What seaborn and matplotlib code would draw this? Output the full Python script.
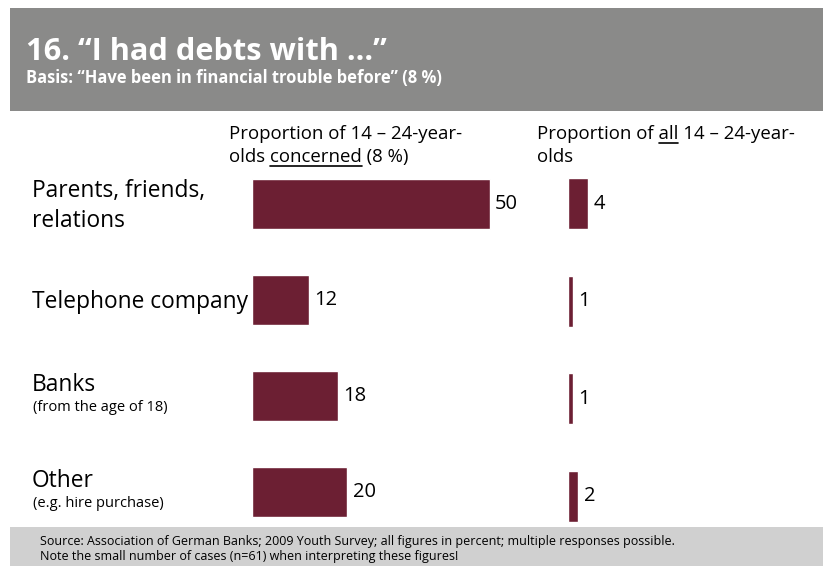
import matplotlib
matplotlib.use("Agg")
import matplotlib.pyplot as plt
import matplotlib.transforms as mtransforms
from matplotlib.patches import Rectangle
from matplotlib.lines import Line2D
import pandas as pd
import seaborn as sns

# data
categories = ["Parents, friends,\nrelations", "Telephone company", "Banks", "Other"]
notes = ["", "", "(from the age of 18)", "(e.g. hire purchase)"]
concerned = [50, 12, 18, 20]
all_youth = [4, 1, 1, 2]

title = "16. \u201cI had debts with ...\u201d"
subtitle = "Basis: \u201cHave been in financial trouble before\u201d (8 %)"
footer = ["Source: Association of German Banks; 2009 Youth Survey; all figures in percent; multiple responses possible.",
          "Note the small number of cases (n=61) when interpreting these figures!"]

BAR = "#6c1f33"
W, H = 823, 568

sns.set_theme(style="white")
plt.rcParams["font.family"] = ["Open Sans", "DejaVu Sans"]
plt.rcParams["text.color"] = "black"

df = pd.DataFrame({"cat": range(len(categories)), "concerned": concerned, "all": all_youth})

fig = plt.figure(figsize=(W / 100, H / 100), dpi=100)
renderer = fig.canvas.get_renderer()


def fx(x):
    return x / W


def fy(y):
    return 1 - y / H


def width(s, size, **kw):
    t = fig.text(0, 0, s, fontsize=size, **kw)
    w = t.get_window_extent(renderer).width
    t.remove()
    return w


def fit(s, target, **kw):
    # font size that makes the text span the width measured on the reference
    return 20 * target / width(s, 20, **kw)


# header and footer bands
fig.add_artist(Rectangle((fx(10), fy(111)), fx(W - 10), 103 / H, transform=fig.transFigure,
                         color="#8a8a89", lw=0))
fig.add_artist(Rectangle((fx(10), fy(566)), fx(W - 10), 39 / H, transform=fig.transFigure,
                         color="#d0d0d0", lw=0))
fig.text(fx(26), fy(60), title, color="white", fontweight="bold", va="baseline",
         fontsize=fit(title, 361, fontweight="bold"))
fig.text(fx(26), fy(83), subtitle, color="white", fontweight="bold", va="baseline",
         fontsize=fit(subtitle, 416, fontweight="bold"))
fs_foot = fit(footer[0], 629)
fig.text(fx(40), fy(545), footer[0], fontsize=fs_foot, va="baseline")
fig.text(fx(40), fy(560), footer[1], fontsize=fs_foot, va="baseline")

# left panel: 4.75 px per unit
ax1 = fig.add_axes([fx(252), fy(540), 4.75 * 60 / W, 384 / H])
sns.barplot(data=df, x="concerned", y="cat", orient="h", color=BAR, width=0.52,
            saturation=1, ax=ax1)
ax1.set_xlim(0, 60)
ax1.set_ylim(3.5, -0.5)
ax1.bar_label(ax1.containers[0], padding=4, fontsize=14.5, color="black")
ax1.axis("off")

# right panel: 5 px per unit
ax2 = fig.add_axes([fx(568), fy(545), 5 * 20 / W, 390 / H])
sns.barplot(data=df, x="all", y="cat", orient="h", color=BAR, width=0.52,
            saturation=1, ax=ax2)
ax2.set_xlim(0, 20)
ax2.set_ylim(3.5, -0.5)
ax2.bar_label(ax2.containers[0], padding=4, fontsize=14.5, color="black")
ax2.axis("off")

# category labels
fs_cat = fit("Telephone company", 215)
fs_note = fit("(from the age of 18)", 134)
tr = mtransforms.blended_transform_factory(fig.transFigure, ax1.transData)
for i, (cat, note) in enumerate(zip(categories, notes)):
    if note:
        ax1.text(fx(32), i - 0.05, cat, transform=tr, fontsize=fs_cat, va="baseline", clip_on=False)
        ax1.text(fx(33), i + 0.16, note, transform=tr, fontsize=fs_note, va="baseline", clip_on=False)
    else:
        ax1.text(fx(32), i + 0.02, cat, transform=tr, fontsize=fs_cat, va="center",
                 linespacing=1.3, clip_on=False)

# column headers with underlined words
fs_head = fit("Proportion of 14 \u2013 24-year-", 233)


def header(x, y, text, word):
    fig.text(fx(x), fy(y), text, fontsize=fs_head, va="baseline")
    if word:
        pre = text[:text.index(word) + len(word)]
        x1 = x + width(pre, fs_head)
        x0 = x1 - width(word, fs_head)
        fig.add_artist(Line2D([fx(x0), fx(x1)], [fy(y + 3.5), fy(y + 3.5)],
                              transform=fig.transFigure, color="black", lw=1.2))


header(229, 139, "Proportion of 14 \u2013 24-year-", None)
header(229, 162, "olds concerned (8 %)", "concerned")
header(537, 139, "Proportion of all 14 \u2013 24-year-", "all")
header(537, 162, "olds", None)

fig.savefig("out.png", dpi=100)
